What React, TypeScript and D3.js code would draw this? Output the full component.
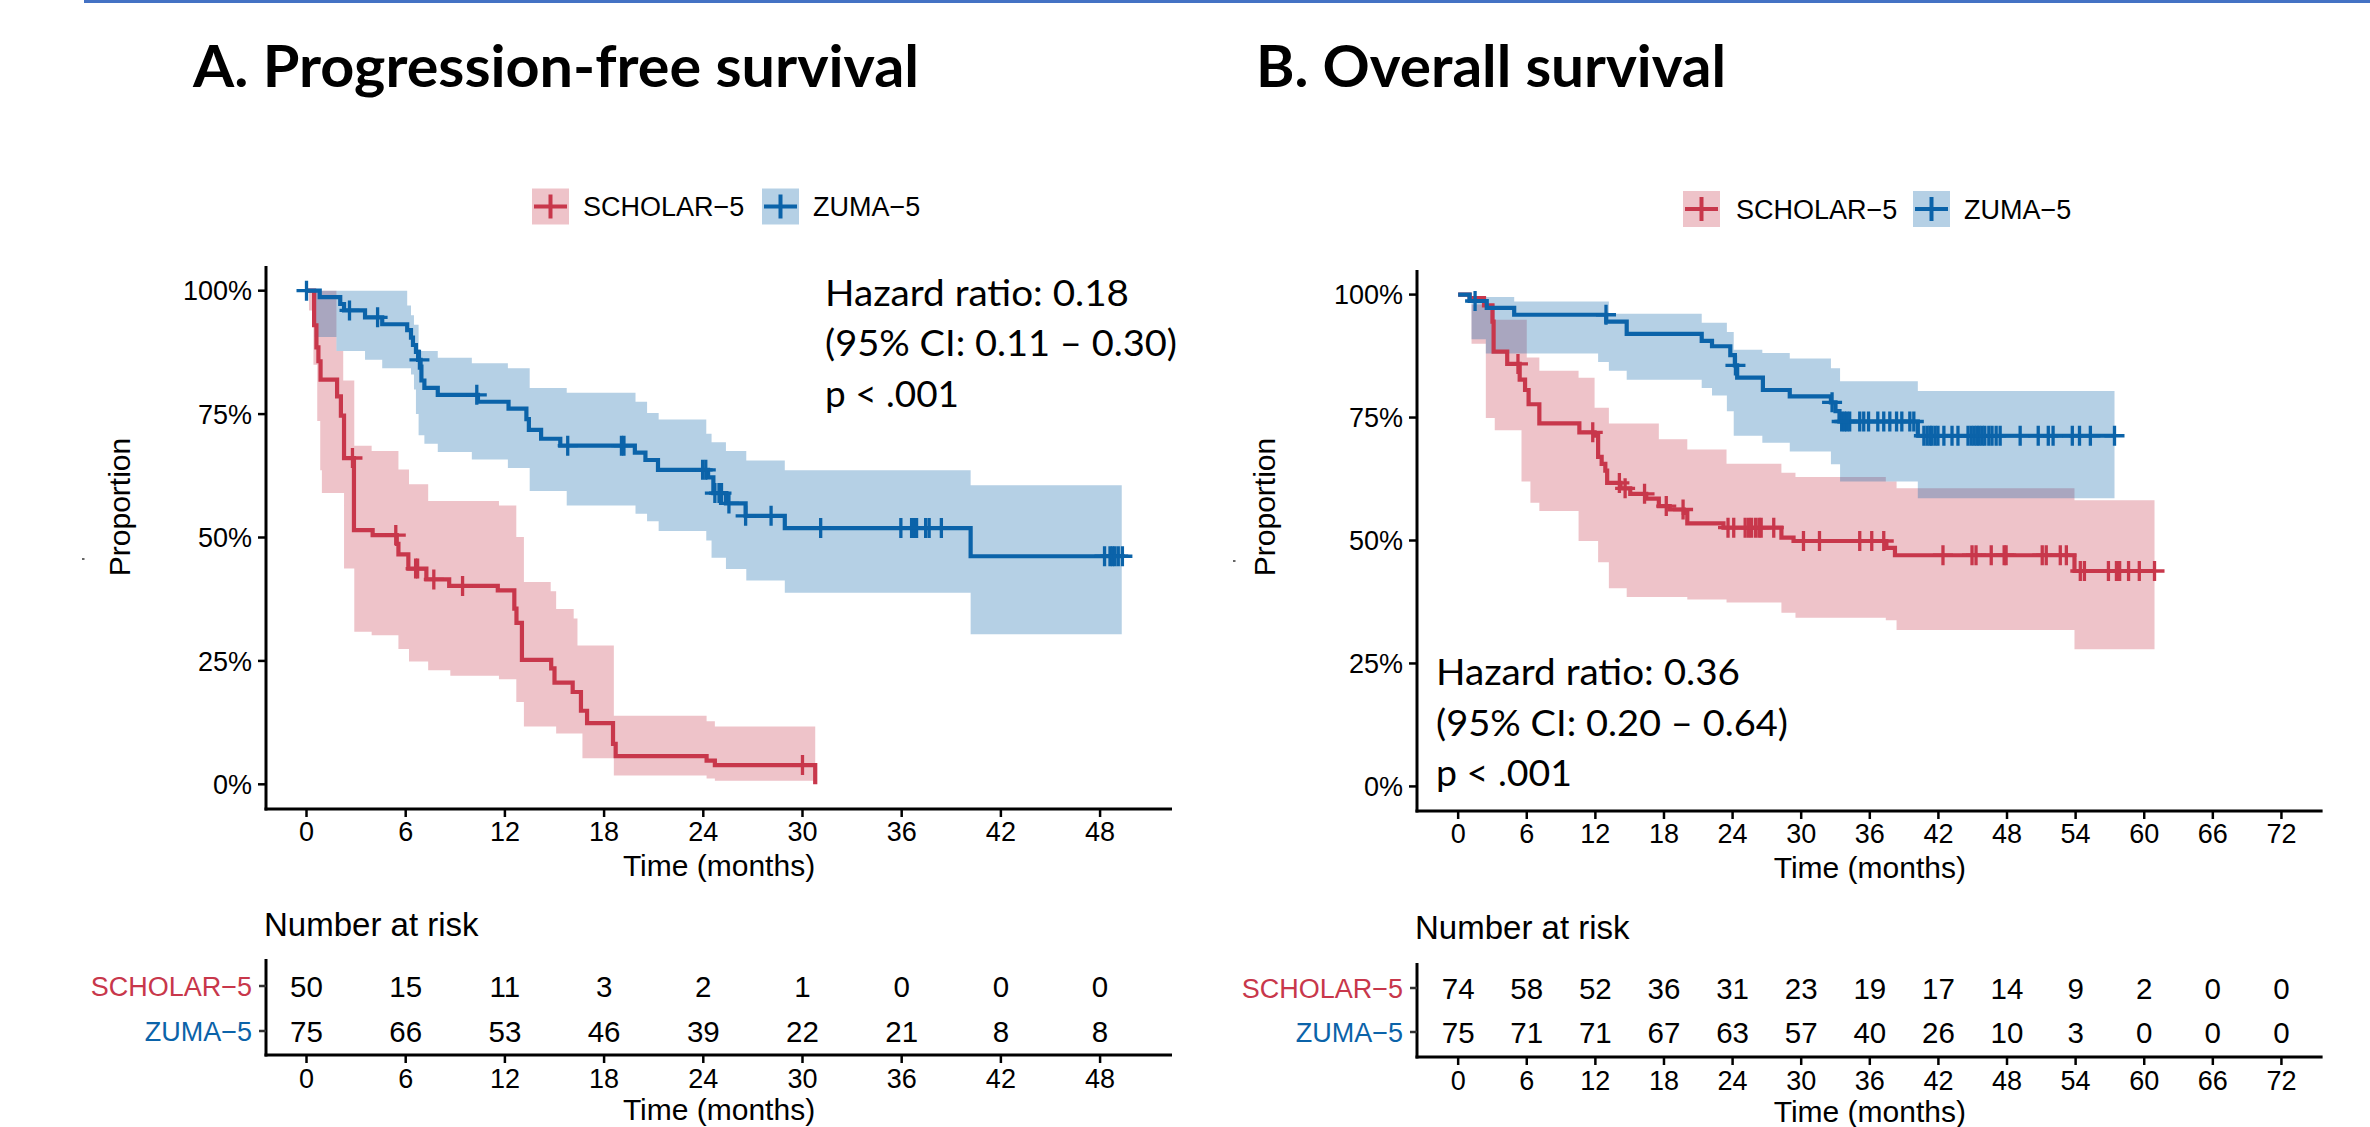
import * as d3 from "d3";

type Step = [number, number];
type Band = [number, number, number];

const RED = "#C8374B";
const BLUE = "#0B63A9";

// ---------- A. Progression-free survival ----------
const pfsScholarCurve: Step[] = [
  [0, 1], [0.46, 0.93], [0.6, 0.885], [0.72, 0.857], [0.85, 0.82], [1.85, 0.786],
  [2.08, 0.747], [2.27, 0.661], [2.87, 0.515], [4.0, 0.505], [5.46, 0.487], [5.56, 0.466],
  [6.16, 0.437], [7.25, 0.415], [8.63, 0.402], [11.57, 0.393], [12.57, 0.356], [12.7, 0.327],
  [13.03, 0.252], [14.8, 0.235], [15.0, 0.206], [16.1, 0.187], [16.6, 0.149], [16.97, 0.124],
  [18.54, 0.082], [18.7, 0.057], [24.2, 0.048], [24.7, 0.039], [30.77, 0],
];
const pfsScholarBand: Band[] = [
  [0, 1, 1], [0.15, 0.96, 1], [0.42, 0.85, 1], [0.65, 0.736, 1], [0.83, 0.636, 1], [0.93, 0.59, 1],
  [1.81, 0.59, 0.878], [2.22, 0.59, 0.818], [2.27, 0.437, 0.818], [2.89, 0.309, 0.686],
  [3.94, 0.302, 0.675], [5.56, 0.274, 0.638], [6.2, 0.249, 0.608], [7.36, 0.231, 0.574],
  [8.7, 0.22, 0.574], [11.64, 0.213, 0.565], [12.69, 0.167, 0.501], [13.15, 0.117, 0.41],
  [14.77, 0.117, 0.391], [15.1, 0.103, 0.355], [16.16, 0.103, 0.336], [16.39, 0.103, 0.281],
  [16.69, 0.053, 0.281], [18.59, 0.018, 0.139], [24.2, 0.012, 0.128], [24.7, 0.007, 0.117],
  [30.77, 0.007, 0.117],
];
const pfsScholarCensor = [2.78, 5.4, 6.6, 6.72, 7.7, 9.44, 30.0];

const pfsZumaCurve: Step[] = [
  [0, 1], [0.8, 0.987], [2.04, 0.973], [2.27, 0.96], [3.54, 0.946], [4.58, 0.932], [6.09, 0.92],
  [6.32, 0.905], [6.44, 0.89], [6.62, 0.876], [6.75, 0.86], [6.9, 0.846], [6.95, 0.818],
  [7.13, 0.803], [7.94, 0.789], [10.37, 0.775], [12.22, 0.761], [13.3, 0.74], [13.45, 0.718],
  [14.19, 0.7], [15.35, 0.686], [19.86, 0.672], [20.5, 0.657], [21.26, 0.637], [24.29, 0.622],
  [24.61, 0.59], [25.37, 0.569], [26.56, 0.544], [28.93, 0.519], [40.17, 0.462], [49.35, 0.462],
];
const pfsZumaBand: Band[] = [
  [0, 1, 1], [0.5, 0.906, 1], [1.81, 0.878, 1], [3.54, 0.86, 1], [4.58, 0.843, 1],
  [6.09, 0.843, 0.97], [6.32, 0.83, 0.95], [6.5, 0.8, 0.931], [6.62, 0.75, 0.931],
  [6.78, 0.707, 0.878], [7.13, 0.69, 0.878], [7.94, 0.673, 0.864], [10.0, 0.658, 0.853],
  [12.18, 0.641, 0.843], [13.5, 0.594, 0.803], [15.74, 0.565, 0.793], [19.9, 0.548, 0.775],
  [20.6, 0.533, 0.752], [21.3, 0.513, 0.739], [24.18, 0.494, 0.71], [24.5, 0.459, 0.693],
  [25.37, 0.436, 0.675], [26.6, 0.413, 0.656], [28.93, 0.388, 0.636], [40.17, 0.304, 0.606],
  [49.31, 0.304, 0.606],
];
const pfsZumaCensor = [
  0, 2.6, 4.3, 6.83, 10.3, 15.8, 19.05, 19.2, 23.96, 24.15, 24.7, 24.95, 25.1, 25.55, 26.56,
  28.1, 31.1, 35.95, 36.6, 36.75, 36.9, 37.45, 37.66, 38.4, 48.27, 48.6, 48.75, 48.9, 49.1, 49.35,
];

const pfsTimes = [0, 6, 12, 18, 24, 30, 36, 42, 48];
const pfsScholarRisk = [50, 15, 11, 3, 2, 1, 0, 0, 0];
const pfsZumaRisk = [75, 66, 53, 46, 39, 22, 21, 8, 8];

// ---------- B. Overall survival ----------
const osScholarCurve: Step[] = [
  [0, 1], [1.0, 0.993], [2.26, 0.978], [3.0, 0.945], [3.1, 0.884], [4.29, 0.859], [5.38, 0.827],
  [5.85, 0.806], [6.16, 0.777], [7.1, 0.738], [10.6, 0.72], [11.93, 0.713], [12.24, 0.67],
  [12.55, 0.656], [12.87, 0.642], [13.03, 0.617], [14.2, 0.606], [15.05, 0.595], [16.45, 0.585],
  [17.55, 0.57], [18.5, 0.563], [19.73, 0.556], [20.04, 0.535], [23.2, 0.526], [28.27, 0.506],
  [29.33, 0.499], [37.45, 0.485], [38.2, 0.47], [53.9, 0.438], [60.9, 0.438],
];
const osScholarBand: Band[] = [
  [0, 1, 1], [1.17, 0.9, 0.98], [2.42, 0.749, 0.98], [3.2, 0.724, 0.949], [5.54, 0.62, 0.949],
  [6.0, 0.62, 0.872], [6.32, 0.577, 0.872], [7.1, 0.56, 0.845], [10.53, 0.499, 0.831],
  [11.93, 0.499, 0.77], [12.24, 0.456, 0.77], [13.18, 0.403, 0.738], [14.74, 0.385, 0.738],
  [17.55, 0.385, 0.706], [20.04, 0.38, 0.685], [23.47, 0.374, 0.656], [28.27, 0.353, 0.638],
  [29.5, 0.343, 0.629], [37.4, 0.338, 0.62], [38.34, 0.318, 0.606], [53.9, 0.279, 0.582],
  [60.9, 0.279, 0.582],
];
const osScholarCensor = [
  5.23, 11.77, 14.1, 14.6, 16.3, 18.2, 19.67, 23.6, 24.1, 25.1, 25.4, 25.65, 26.0, 26.3, 26.5,
  27.6, 30.2, 31.6, 35.12, 36.17, 37.22, 42.4, 44.94, 45.29, 46.62, 47.75, 47.92, 51.08, 51.43,
  52.66, 53.19, 54.41, 54.77, 56.87, 57.57, 57.85, 58.63, 59.57, 60.9,
];

const osZumaCurve: Step[] = [
  [0, 1], [1.0, 0.987], [2.5, 0.973], [4.9, 0.959], [12.95, 0.945], [14.74, 0.92], [21.3, 0.906],
  [22.2, 0.895], [23.8, 0.877], [24.2, 0.856], [24.4, 0.831], [26.65, 0.806], [29.0, 0.793],
  [32.6, 0.781], [33.0, 0.763], [33.35, 0.742], [40.2, 0.713], [57.4, 0.713],
];
const osZumaBand: Band[] = [
  [0, 1, 1], [1.17, 0.909, 0.995], [2.42, 0.88, 0.995], [4.9, 0.88, 0.986], [12.24, 0.863, 0.986],
  [13.18, 0.845, 0.961], [14.74, 0.827, 0.961], [21.3, 0.81, 0.943], [22.2, 0.795, 0.943],
  [23.5, 0.763, 0.924], [24.1, 0.713, 0.888], [26.6, 0.699, 0.881], [29.0, 0.681, 0.87],
  [32.6, 0.655, 0.85], [33.4, 0.62, 0.824], [40.2, 0.586, 0.804], [57.4, 0.586, 0.804],
];
const osZumaCensor = [
  1.48, 12.93, 24.25, 32.7, 33.54, 33.78, 33.99, 34.24, 35.12, 35.47, 35.89, 36.7, 37.22, 37.75,
  38.34, 38.8, 39.5, 39.85, 40.73, 41.01, 41.26, 41.43, 41.71, 41.96, 42.48, 43.19, 43.71, 44.59,
  44.87, 45.12, 45.36, 45.57, 45.82, 46.06, 46.41, 46.69, 47.05, 47.4, 49.15, 50.73, 51.61,
  52.03, 53.71, 54.34, 55.29, 57.4,
];

const osTimes = [0, 6, 12, 18, 24, 30, 36, 42, 48, 54, 60, 66, 72];
const osScholarRisk = [74, 58, 52, 36, 31, 23, 19, 17, 14, 9, 2, 0, 0];
const osZumaRisk = [75, 71, 71, 67, 63, 57, 40, 26, 10, 3, 0, 0, 0];

const yTicks = [0, 0.25, 0.5, 0.75, 1];
const groupNames = ["SCHOLAR−5", "ZUMA−5"];

const FONT = "'Liberation Sans', Arial, Helvetica, sans-serif";
const CAL = "Lato, 'Open Sans', sans-serif";

function survAt(curve: Step[], t: number) {
  let s = curve[0][1];
  for (const [tt, ss] of curve) {
    if (tt <= t) s = ss;
    else break;
  }
  return s;
}

interface PanelCfg {
  title: string;
  titleX: number;
  titleW: number;
  left: number;
  right: number;
  top: number;
  bottom: number;
  xDomain: [number, number];
  times: number[];
  curves: Step[][];
  bands: Band[][];
  censors: number[][];
  risk: number[][];
  legendY: number;
  legendKeys: number[];
  legendText: number[];
  ylabX: number;
  hr: string[];
  hrX: number;
  hrY: number;
  hrW: number[];
  tableTop: number;
  tableBottom: number;
  rowY: number[];
  headerY: number;
  dotY: number;
  dotX: number;
}

function Panel({ c }: { c: PanelCfg }) {
  const x = d3.scaleLinear().domain(c.xDomain).range([c.left, c.right]);
  const y = d3.scaleLinear().domain([-0.05, 1.05]).range([c.bottom, c.top]);
  const line = d3
    .line<Step>()
    .x((d) => x(d[0]))
    .y((d) => y(d[1]))
    .curve(d3.curveStepAfter);
  const area = d3
    .area<Band>()
    .x((d) => x(d[0]))
    .y0((d) => y(d[1]))
    .y1((d) => y(d[2]))
    .curve(d3.curveStepAfter);
  const colors = [RED, BLUE];
  const cs = 10; // censor cross half size

  return (
    <g>
      <text
        x={c.titleX}
        y={87}
        fontFamily={CAL}
        fontWeight={700}
        fontSize={57}
        textLength={c.titleW}
        lengthAdjust="spacingAndGlyphs"
      >
        {c.title}
      </text>

      {/* legend */}
      {groupNames.map((g, i) => (
        <g key={g}>
          <rect
            x={c.legendKeys[i]}
            y={c.legendY - 18}
            width={37}
            height={36}
            fill={colors[i]}
            fillOpacity={0.3}
          />
          <line
            x1={c.legendKeys[i] + 2}
            x2={c.legendKeys[i] + 35}
            y1={c.legendY}
            y2={c.legendY}
            stroke={colors[i]}
            strokeWidth={4}
          />
          <line
            x1={c.legendKeys[i] + 18.5}
            x2={c.legendKeys[i] + 18.5}
            y1={c.legendY - 12}
            y2={c.legendY + 12}
            stroke={colors[i]}
            strokeWidth={4}
          />
          <text
            x={c.legendText[i]}
            y={c.legendY}
            dy="0.36em"
            fontFamily={FONT}
            fontSize={27}
          >
            {g}
          </text>
        </g>
      ))}

      {/* bands */}
      {c.bands.map((b, i) => (
        <path key={"b" + i} d={area(b) || ""} fill={colors[i]} fillOpacity={0.3} />
      ))}
      {/* curves */}
      {c.curves.map((cv, i) => (
        <path
          key={"c" + i}
          d={line(cv) || ""}
          fill="none"
          stroke={colors[i]}
          strokeWidth={4.2}
        />
      ))}
      {/* censor marks */}
      {c.censors.map((cens, i) =>
        cens.map((t, j) => {
          const px = x(t);
          const py = y(survAt(c.curves[i], t));
          return (
            <path
              key={`m${i}-${j}`}
              d={`M${px - cs},${py}H${px + cs}M${px},${py - cs}V${py + cs}`}
              stroke={colors[i]}
              strokeWidth={3.3}
              fill="none"
            />
          );
        })
      )}

      {/* axes */}
      <line x1={c.left} x2={c.left} y1={c.top} y2={c.bottom + 1.5} stroke="#000" strokeWidth={3} />
      <line x1={c.left - 1.5} x2={c.right} y1={c.bottom} y2={c.bottom} stroke="#000" strokeWidth={3} />
      {yTicks.map((v) => (
        <g key={"y" + v}>
          <line x1={c.left - 8} x2={c.left} y1={y(v)} y2={y(v)} stroke="#000" strokeWidth={2.5} />
          <text
            x={c.left - 14}
            y={y(v)}
            dy="0.36em"
            textAnchor="end"
            fontFamily={FONT}
            fontSize={27}
          >
            {`${v * 100}%`}
          </text>
        </g>
      ))}
      {c.times.map((t) => (
        <g key={"x" + t}>
          <line x1={x(t)} x2={x(t)} y1={c.bottom} y2={c.bottom + 8} stroke="#000" strokeWidth={2.5} />
          <text x={x(t)} y={c.bottom + 32} textAnchor="middle" fontFamily={FONT} fontSize={27}>
            {t}
          </text>
        </g>
      ))}
      <text
        x={(c.left + c.right) / 2}
        y={c.bottom + 67}
        textAnchor="middle"
        fontFamily={FONT}
        fontSize={30}
      >
        Time (months)
      </text>
      <text
        transform={`translate(${c.ylabX},507) rotate(-90)`}
        textAnchor="middle"
        fontFamily={FONT}
        fontSize={30}
      >
        Proportion
      </text>
      <rect x={c.dotX} y={c.dotY} width={2.5} height={2} fill="#666" />

      {/* hazard ratio annotation */}
      {c.hr.map((s, i) => (
        <text
          key={"hr" + i}
          x={c.hrX}
          y={c.hrY + i * 50.5}
          fontFamily={CAL}
          fontSize={37}
          textLength={c.hrW[i]}
          lengthAdjust="spacingAndGlyphs"
        >
          {s}
        </text>
      ))}

      {/* risk table */}
      <text x={c.left - 2} y={c.headerY} fontFamily={FONT} fontSize={33}>
        Number at risk
      </text>
      <line
        x1={c.left}
        x2={c.left}
        y1={c.tableTop}
        y2={c.tableBottom + 1.5}
        stroke="#000"
        strokeWidth={3}
      />
      <line
        x1={c.left - 1.5}
        x2={c.right}
        y1={c.tableBottom}
        y2={c.tableBottom}
        stroke="#000"
        strokeWidth={3}
      />
      {groupNames.map((g, i) => (
        <g key={"r" + g}>
          <line
            x1={c.left - 7}
            x2={c.left}
            y1={c.rowY[i]}
            y2={c.rowY[i]}
            stroke="#333"
            strokeWidth={2.5}
          />
          <text
            x={c.left - 14}
            y={c.rowY[i]}
            dy="0.36em"
            textAnchor="end"
            fontFamily={FONT}
            fontSize={27}
            fill={colors[i]}
          >
            {g}
          </text>
          {c.risk[i].map((n, j) => (
            <text
              key={j}
              x={x(c.times[j])}
              y={c.rowY[i]}
              dy="0.36em"
              textAnchor="middle"
              fontFamily={FONT}
              fontSize={29.5}
            >
              {n}
            </text>
          ))}
        </g>
      ))}
      {c.times.map((t) => (
        <g key={"tx" + t}>
          <line
            x1={x(t)}
            x2={x(t)}
            y1={c.tableBottom}
            y2={c.tableBottom + 8}
            stroke="#000"
            strokeWidth={2.5}
          />
          <text
            x={x(t)}
            y={c.tableBottom + 33}
            textAnchor="middle"
            fontFamily={FONT}
            fontSize={27}
          >
            {t}
          </text>
        </g>
      ))}
      <text
        x={(c.left + c.right) / 2}
        y={c.tableBottom + 65}
        textAnchor="middle"
        fontFamily={FONT}
        fontSize={30}
      >
        Time (months)
      </text>
    </g>
  );
}

const panelA: PanelCfg = {
  title: "A. Progression-free survival",
  titleX: 193,
  titleW: 726,
  left: 266,
  right: 1172,
  top: 266,
  bottom: 809,
  xDomain: [-2.45, 52.35],
  times: pfsTimes,
  curves: [pfsScholarCurve, pfsZumaCurve],
  bands: [pfsScholarBand, pfsZumaBand],
  censors: [pfsScholarCensor, pfsZumaCensor],
  risk: [pfsScholarRisk, pfsZumaRisk],
  legendY: 206.5,
  legendKeys: [532, 762],
  legendText: [583, 813],
  ylabX: 130,
  hr: ["Hazard ratio: 0.18", "(95% CI: 0.11 – 0.30)", "p < .001"],
  hrX: 825,
  hrY: 305.6,
  hrW: [304, 352, 134],
  tableTop: 959,
  tableBottom: 1055,
  rowY: [986, 1031],
  headerY: 936,
  dotX: 82,
  dotY: 558,
};

const panelB: PanelCfg = {
  title: "B. Overall survival",
  titleX: 1256,
  titleW: 470,
  left: 1417,
  right: 2322.6,
  top: 270,
  bottom: 811,
  xDomain: [-3.6, 75.6],
  times: osTimes,
  curves: [osScholarCurve, osZumaCurve],
  bands: [osScholarBand, osZumaBand],
  censors: [osScholarCensor, osZumaCensor],
  risk: [osScholarRisk, osZumaRisk],
  legendY: 209,
  legendKeys: [1683, 1913],
  legendText: [1736, 1964],
  ylabX: 1275,
  hr: ["Hazard ratio: 0.36", "(95% CI: 0.20 – 0.64)", "p < .001"],
  hrX: 1436,
  hrY: 685,
  hrW: [304, 352, 136],
  tableTop: 963,
  tableBottom: 1057,
  rowY: [988, 1032],
  headerY: 939,
  dotX: 1233,
  dotY: 560,
};

export default function App() {
  return (
    <svg
      width={2370}
      height={1127}
      style={{ position: "absolute", left: 0, top: 0, display: "block", background: "#fff" }}
    >
      <rect x={0} y={0} width={2370} height={1127} fill="#fff" />
      <rect x={84} y={0} width={2286} height={3} fill="#4472C4" />
      <Panel c={panelA} />
      <Panel c={panelB} />
    </svg>
  );
}
